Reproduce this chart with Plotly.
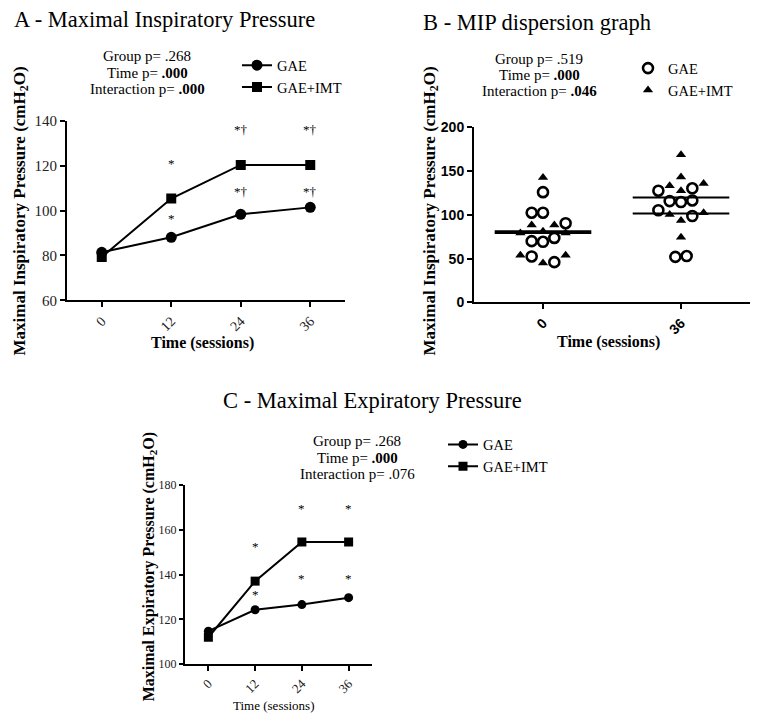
import numpy as np
import plotly.graph_objects as go

# ---------------- data ----------------
sessions = [0, 12, 24, 36]
session_labels = ["0", "12", "24", "36"]

# Panel A - Maximal Inspiratory Pressure (means)
mip_gae = [81.4, 88.1, 98.3, 101.4]
mip_imt = [79.3, 105.3, 120.3, 120.3]
mip_sig_gae = ["", "*", "*†", "*†"]
mip_sig_gae_y = [None, 96.5, 108.5, 108.5]
mip_sig_imt = ["", "*", "*†", "*†"]
mip_sig_imt_y = [None, 121.0, 136.0, 136.0]
mip_stats = ["Group p= .268", "Time p= <b>.000</b>", "Interaction p= <b>.000</b>"]

# Panel C - Maximal Expiratory Pressure (means)
mep_gae = [114.7, 124.3, 126.6, 129.7]
mep_imt = [112.0, 137.1, 154.6, 154.6]
mep_sig_gae = ["", "*", "*", "*"]
mep_sig_gae_y = [None, 131.0, 138.3, 138.3]
mep_sig_imt = ["", "*", "*", "*"]
mep_sig_imt_y = [None, 152.5, 169.4, 169.4]
mep_stats = ["Group p= .268", "Time p= <b>.000</b>", "Interaction p= .076"]

# Panel B - MIP dispersion (individual values)
disp_time_labels = ["0", "36"]
disp_gae_t0 = [126, 102.5, 102.5, 90.5, 70, 69.3, 73.7, 52.5, 46]
disp_imt_t0 = [142.7, 88.6, 88.6, 79.3, 81.2, 79.3, 54, 45, 54]
disp_gae_t36 = [127.7, 130.4, 115.8, 114.7, 116.5, 105.4, 98.7, 52, 53]
disp_imt_t36 = [168.7, 143.4, 133.3, 127.7, 136, 100.6, 93.5, 102.5, 74.5]
disp_stats = ["Group p= .519", "Time p= <b>.000</b>", "Interaction p= <b>.046</b>"]

# swarm slots (layout of the dot plot, not data)
slot_gae_t0 = [0, -1, 0, 2, -1, 0, 1, -1, 1]
slot_imt_t0 = [0, -1, 1, -2, 0, 2, -2, 0, 2]
slot_gae_t36 = [-2, 1, -1, 0, 1, -2, 1, -0.5, 0.5]
slot_imt_t36 = [0, 0, -1, 0, 2, -1, 0, 2, 0]
SLOT_W = 0.082

# ---------------- styling ----------------
PAGE_W, PAGE_H = 771, 727
OFF = 8  # default body margin of the html page
W, H = PAGE_W - 2 * OFF, PAGE_H - 2 * OFF
SERIF = "Liberation Serif, Times New Roman, serif"
SANS = "Liberation Sans, Arial, sans-serif"


def px(x):
    return (x - OFF) / W


def py(y):
    return 1 - (y - OFF) / H


fig = go.Figure()
line_style = dict(color="black", width=2)

# Panel A traces
fig.add_trace(go.Scatter(x=sessions, y=mip_gae, mode="lines+markers", name="GAE",
                         line=line_style, marker=dict(symbol="circle", size=11, color="black"),
                         xaxis="x", yaxis="y", legend="legend"))
fig.add_trace(go.Scatter(x=sessions, y=mip_imt, mode="lines+markers", name="GAE+IMT",
                         line=line_style, marker=dict(symbol="square", size=10, color="black"),
                         xaxis="x", yaxis="y", legend="legend"))

# Panel C traces
fig.add_trace(go.Scatter(x=sessions, y=mep_gae, mode="lines+markers", name="GAE",
                         line=line_style, marker=dict(symbol="circle", size=9, color="black"),
                         xaxis="x3", yaxis="y3", legend="legend3"))
fig.add_trace(go.Scatter(x=sessions, y=mep_imt, mode="lines+markers", name="GAE+IMT",
                         line=line_style, marker=dict(symbol="square", size=9, color="black"),
                         xaxis="x3", yaxis="y3", legend="legend3"))

# Panel B traces
gx = [0 + s * SLOT_W for s in slot_gae_t0] + [1 + s * SLOT_W for s in slot_gae_t36]
gy = disp_gae_t0 + disp_gae_t36
ix = [0 + s * SLOT_W for s in slot_imt_t0] + [1 + s * SLOT_W for s in slot_imt_t36]
iy = disp_imt_t0 + disp_imt_t36
fig.add_trace(go.Scatter(x=gx, y=gy, mode="markers", name="GAE",
                         marker=dict(symbol="circle-open", size=10, color="black",
                                     line=dict(width=2.6, color="black")),
                         xaxis="x2", yaxis="y2", legend="legend2"))
fig.add_trace(go.Scatter(x=ix, y=iy, mode="markers", name="GAE+IMT",
                         marker=dict(symbol="triangle-up", size=9, color="black"),
                         xaxis="x2", yaxis="y2", legend="legend2"))
# mean lines
for ti, vals in [(0, disp_gae_t0), (0, disp_imt_t0), (1, disp_gae_t36), (1, disp_imt_t36)]:
    m = float(np.mean(vals))
    fig.add_trace(go.Scatter(x=[ti - 0.35, ti + 0.35], y=[m, m], mode="lines",
                             line=dict(color="black", width=2), showlegend=False,
                             xaxis="x2", yaxis="y2", hoverinfo="skip"))

# significance labels
for xs, labels, ys, ax, ay in [
    (sessions, mip_sig_gae, mip_sig_gae_y, "x", "y"),
    (sessions, mip_sig_imt, mip_sig_imt_y, "x", "y"),
    (sessions, mep_sig_gae, mep_sig_gae_y, "x3", "y3"),
    (sessions, mep_sig_imt, mep_sig_imt_y, "x3", "y3"),
]:
    for xv, lab, yv in zip(xs, labels, ys):
        if lab:
            fig.add_annotation(x=xv, y=yv, xref=ax, yref=ay, text=lab, showarrow=False,
                               font=dict(family=SERIF, size=13, color="black"))

axis_common = dict(showline=True, linecolor="black", linewidth=2, ticks="outside",
                   tickwidth=2, tickcolor="black", showgrid=False,
                   zeroline=False, mirror=False)

fig.update_layout(
    width=W, height=H, margin=dict(l=0, r=0, t=0, b=0),
    paper_bgcolor="white", plot_bgcolor="white",
    xaxis=dict(**axis_common, ticklen=5, domain=[px(67), px(345)], range=[-6, 42],
               tickvals=sessions, ticktext=session_labels, tickangle=-45,
               tickfont=dict(family=SERIF, size=14, color="#222"), anchor="y"),
    yaxis=dict(**axis_common, ticklen=5, domain=[py(299), py(115)], range=[60, 140], dtick=20,
               tickfont=dict(family=SERIF, size=15, color="#222"), anchor="x"),
    xaxis2=dict(**axis_common, ticklen=5, domain=[px(474), px(750)], range=[-0.5, 1.5],
                tickvals=[0, 1], ticktext=disp_time_labels, tickangle=-45,
                tickfont=dict(family=SANS, size=14, color="black", weight="bold"), anchor="y2"),
    yaxis2=dict(**axis_common, ticklen=5, domain=[py(301), py(122)], range=[0, 200], dtick=50,
                tickfont=dict(family=SANS, size=14, color="black", weight="bold"), anchor="x2"),
    xaxis3=dict(**axis_common, ticklen=5, domain=[px(185), px(372)], range=[-6, 42],
                tickvals=sessions, ticktext=session_labels, tickangle=-45,
                tickfont=dict(family=SERIF, size=13, color="#222"), anchor="y3"),
    yaxis3=dict(**axis_common, ticklen=4, domain=[py(671), py(488)], range=[100, 180], dtick=20,
                tickfont=dict(family=SERIF, size=12, color="#222"), anchor="x3"),
    legend=dict(x=px(237), y=py(42), xanchor="left", yanchor="top",
                font=dict(family=SERIF, size=14.5, color="black"), bgcolor="rgba(0,0,0,0)"),
    legend2=dict(x=px(628), y=py(45), xanchor="left", yanchor="top",
                 font=dict(family=SERIF, size=14.5, color="black"), bgcolor="rgba(0,0,0,0)"),
    legend3=dict(x=px(443), y=py(430), xanchor="left", yanchor="top",
                 font=dict(family=SERIF, size=14.5, color="black"), bgcolor="rgba(0,0,0,0)"),
    showlegend=True,
)

# titles
for text, x, y in [("A - Maximal Inspiratory Pressure", 12, 12),
                   ("B - MIP dispersion graph", 421, 15),
                   ("C - Maximal Expiratory Pressure", 221, 401)]:
    fig.add_annotation(x=px(x), y=py(y), xref="paper", yref="paper", xanchor="left",
                       yanchor="middle", text=text, showarrow=False,
                       font=dict(family=SERIF, size=22.5, color="black"))

# stats blocks (one annotation per line)
for lines, x, ys in [(mip_stats, 147, [49, 66, 83]),
                     (disp_stats, 539, [52, 68, 85]),
                     (mep_stats, 357, [443, 460, 477])]:
    for line, y in zip(lines, ys):
        fig.add_annotation(x=px(x), y=py(y), xref="paper", yref="paper", xanchor="center",
                           yanchor="middle", text=line, showarrow=False,
                           font=dict(family=SERIF, size=15, color="black"))

# axis titles
for text, x, y, size in [("Maximal Inspiratory Pressure (cmH<sub>2</sub>O)", 21, 208, 17),
                         ("Maximal Inspiratory Pressure (cmH<sub>2</sub>O)", 431, 208, 17),
                         ("Maximal Expiratory Pressure (cmH<sub>2</sub>O)", 149, 572, 16)]:
    fig.add_annotation(x=px(x), y=py(y), xref="paper", yref="paper", xanchor="center",
                       yanchor="middle", text=text, textangle=-90, showarrow=False,
                       font=dict(family=SERIF, size=size, color="black", weight="bold"))

for text, x, y, bold, size in [("Time (sessions)", 202, 343, True, 16),
                               ("Time (sessions)", 608, 342, True, 16),
                               ("Time (sessions)", 274, 713, False, 13)]:
    fig.add_annotation(x=px(x), y=py(y), xref="paper", yref="paper", xanchor="center",
                       yanchor="middle", text=text, showarrow=False,
                       font=dict(family=SERIF, size=size, color="black",
                                 weight="bold" if bold else "normal"))

fig.write_html("out.html", config={"displayModeBar": False})
